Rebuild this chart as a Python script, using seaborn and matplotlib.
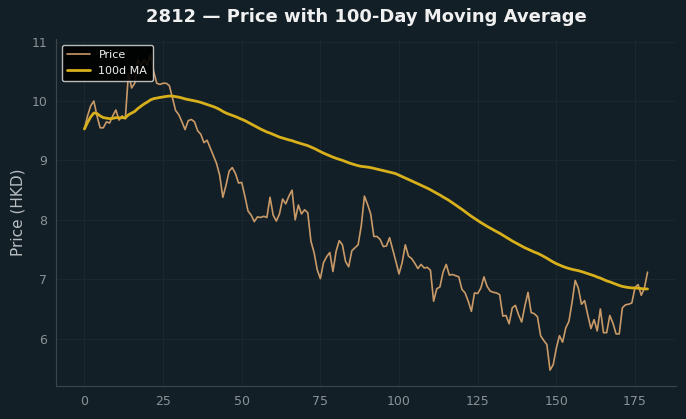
import numpy as np
import pandas as pd
import matplotlib
matplotlib.use("Agg")
import matplotlib.pyplot as plt
import seaborn as sns

price = [
    9.53, 9.75, 9.92, 10.0, 9.75, 9.55, 9.55, 9.65, 9.63, 9.75,
    9.85, 9.68, 9.75, 9.7, 10.47, 10.22, 10.3, 10.7, 10.6, 10.7,
    10.6, 10.78, 10.5, 10.3, 10.28, 10.3, 10.3, 10.26, 10.05, 9.84,
    9.77, 9.65, 9.52, 9.67, 9.69, 9.65, 9.5, 9.44, 9.3, 9.34,
    9.21, 9.08, 8.95, 8.75, 8.38, 8.58, 8.82, 8.88, 8.78, 8.62,
    8.63, 8.4, 8.15, 8.08, 7.97, 8.05, 8.04, 8.06, 8.04, 8.38,
    8.08, 7.98, 8.1, 8.35, 8.27, 8.4, 8.5, 8.0, 8.25, 8.1,
    8.17, 8.12, 7.64, 7.45, 7.16, 7.01, 7.28, 7.38, 7.45, 7.13,
    7.47, 7.65, 7.58, 7.3, 7.21, 7.48, 7.53, 7.58, 7.9, 8.4,
    8.26, 8.1, 7.72, 7.72, 7.67, 7.55, 7.56, 7.7, 7.5, 7.3,
    7.09, 7.28, 7.58, 7.39, 7.35, 7.27, 7.18, 7.25, 7.19, 7.2,
    7.15, 6.63, 6.84, 6.87, 7.12, 7.25, 7.07, 7.08, 7.06, 7.04,
    6.83, 6.77, 6.63, 6.46, 6.77, 6.76, 6.85, 7.04, 6.88, 6.8,
    6.78, 6.77, 6.74, 6.38, 6.39, 6.25, 6.52, 6.56, 6.4, 6.28,
    6.55, 6.78, 6.44, 6.42, 6.37, 6.05, 5.97, 5.9, 5.47, 5.56,
    5.84, 6.05, 5.94, 6.18, 6.29, 6.61, 6.98, 6.85, 6.58, 6.64,
    6.4, 6.17, 6.32, 6.13, 6.5, 6.1, 6.1, 6.39, 6.26, 6.08,
    6.08, 6.52, 6.57, 6.58, 6.6, 6.86, 6.91, 6.73, 6.85, 7.12,
]
day = list(range(len(price)))
ma_window = 100

df = pd.DataFrame({"day": day, "price": price})
df["ma"] = df["price"].rolling(ma_window, min_periods=1).mean()

BG = "#121f26"
sns.set_theme(style="dark")
plt.rcParams["font.family"] = ["DejaVu Sans"]

fig, ax = plt.subplots(figsize=(6.86, 4.19), dpi=100)
fig.patch.set_facecolor(BG)
ax.set_facecolor(BG)

sns.lineplot(data=df, x="day", y="price", ax=ax, color="#c99a68", linewidth=1.2, label="Price")
sns.lineplot(data=df, x="day", y="ma", ax=ax, color="#d8b01c", linewidth=2.0, label="100d MA")

ax.set_title("2812 — Price with 100-Day Moving Average", color="#f0f0f0",
             fontsize=13, fontweight="bold", pad=12)
ax.set_xlabel("")
ax.set_ylabel("Price (HKD)", color="#b8bec2", fontsize=11)
ax.tick_params(colors="#8a9296", labelsize=9, length=3)
ax.grid(True, color="#1a272e", linewidth=0.8)
for s in ["top", "right"]:
    ax.spines[s].set_visible(False)
for s in ["left", "bottom"]:
    ax.spines[s].set_color("#3a464c")
    ax.spines[s].set_linewidth(0.8)

leg = ax.legend(loc="upper left", fontsize=8, facecolor="#000000", edgecolor="#d0d0d0",
                framealpha=0.9, labelcolor="#f0f0f0", borderpad=0.5)

fig.subplots_adjust(left=0.082, right=0.985, top=0.907, bottom=0.079)
fig.savefig("out.png", dpi=100, facecolor=BG)
